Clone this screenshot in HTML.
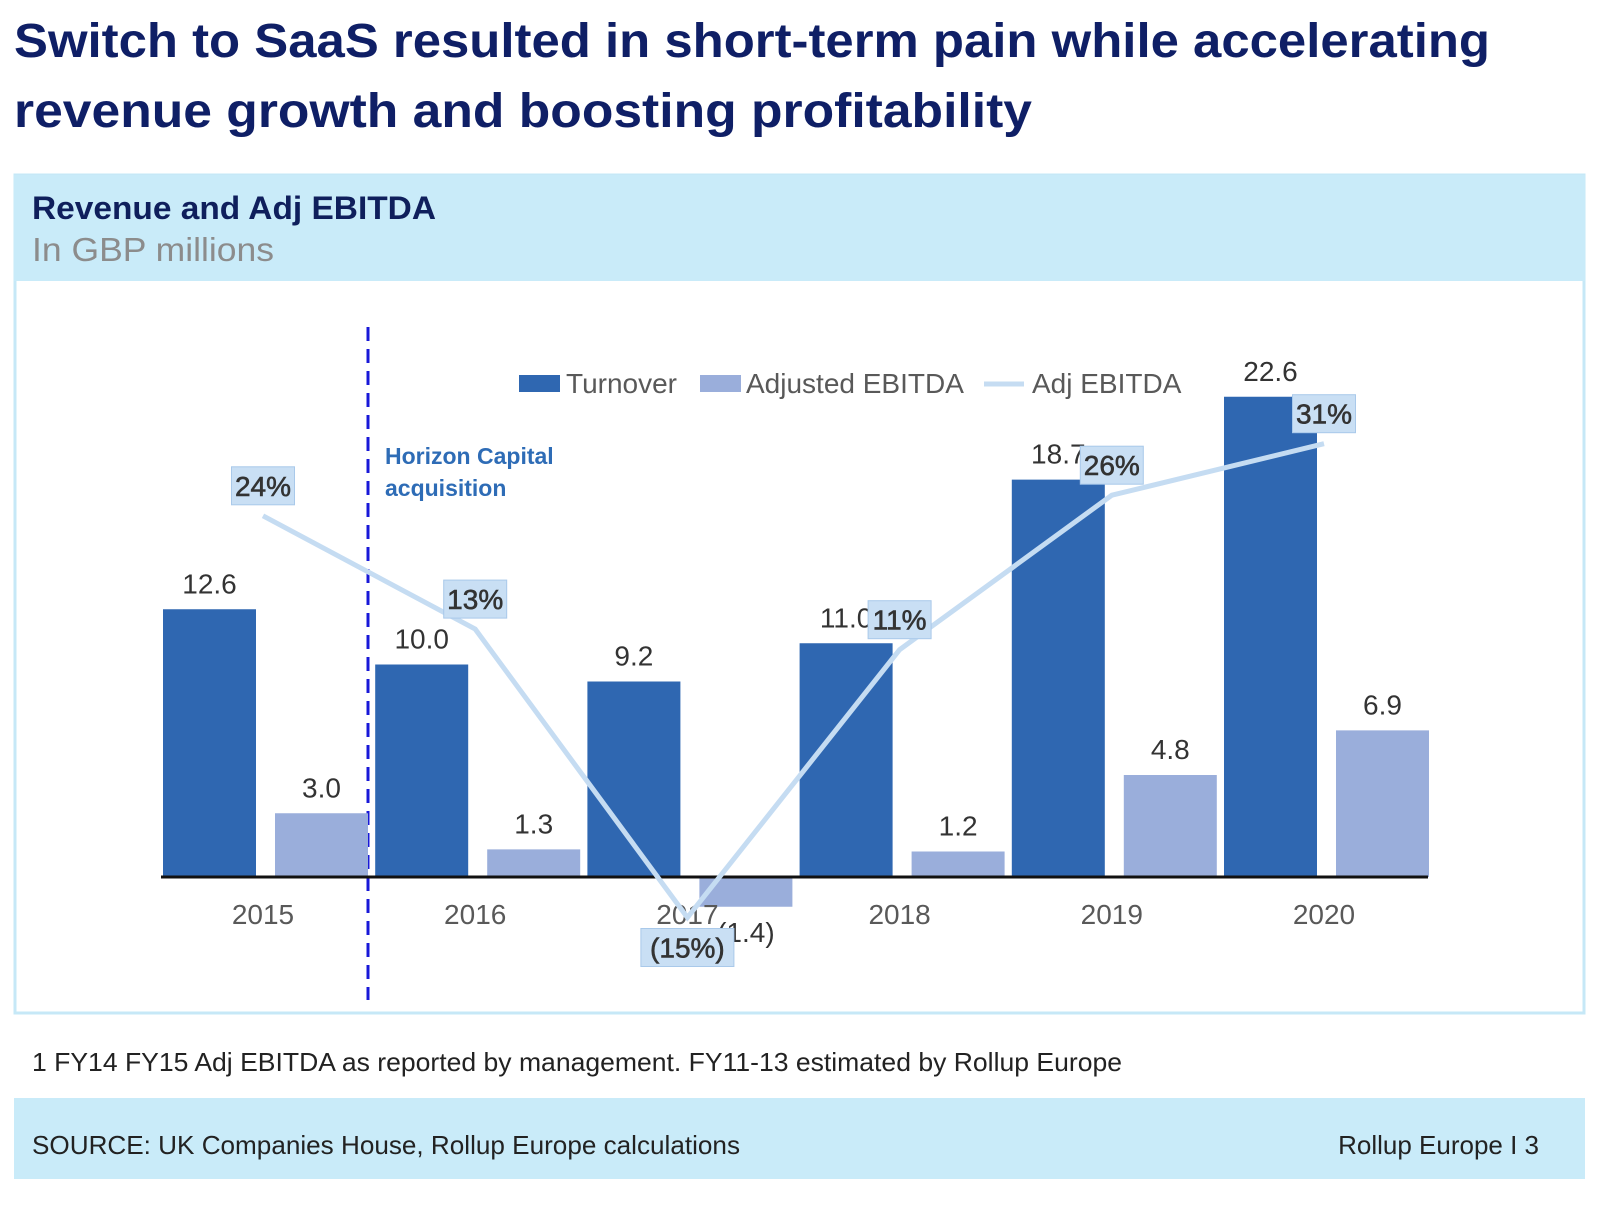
<!DOCTYPE html>
<html><head><meta charset="utf-8">
<style>
html,body{margin:0;padding:0;background:#fff;}
svg{display:block;font-family:"Liberation Sans",sans-serif;}
</style></head>
<body>
<svg id="chart" width="1600" height="1223" viewBox="0 0 1600 1223">
  <text x="14" y="57" font-size="48" font-weight="bold" fill="#0f1f66" textLength="1476" lengthAdjust="spacingAndGlyphs">Switch to SaaS resulted in short-term pain while accelerating</text>
  <text x="14" y="127" font-size="48" font-weight="bold" fill="#0f1f66" textLength="1018" lengthAdjust="spacingAndGlyphs">revenue growth and boosting profitability</text>

  <rect x="15" y="175" width="1569" height="838" fill="#fff" stroke="#c6e8f7" stroke-width="3"/>
  <rect x="14" y="175" width="1571" height="106" fill="#c9ebf9"/>
  <text x="32" y="219" font-size="32" font-weight="bold" fill="#0f1f5c" textLength="404" lengthAdjust="spacingAndGlyphs">Revenue and Adj EBITDA</text>
  <text x="32" y="261" font-size="33" fill="#8c8c8c" textLength="242" lengthAdjust="spacingAndGlyphs">In GBP millions</text>

  <line x1="368" y1="327" x2="368" y2="1000" stroke="#1818d8" stroke-width="3" stroke-dasharray="14,8"/>
  <text x="385" y="464" font-size="23" font-weight="bold" fill="#2e6cb6">Horizon Capital</text>
  <text x="385" y="496" font-size="23" font-weight="bold" fill="#2e6cb6">acquisition</text>

  <g>
    <rect x="519" y="375" width="41" height="17" fill="#2f67b1"/>
    <text x="566" y="393" font-size="28" fill="#595959">Turnover</text>
    <rect x="700" y="375" width="41" height="17" fill="#9aaedb"/>
    <text x="746" y="393" font-size="28" fill="#595959">Adjusted EBITDA</text>
    <line x1="984" y1="384" x2="1024" y2="384" stroke="#c5dcf2" stroke-width="5"/>
    <text x="1032" y="393" font-size="28" fill="#595959">Adj EBITDA</text>
  </g>

  <g id="plot"></g>

  <text x="32" y="1071" font-size="26" fill="#222" textLength="1090" lengthAdjust="spacingAndGlyphs">1 FY14 FY15 Adj EBITDA as reported by management. FY11-13 estimated by Rollup Europe</text>
  <rect x="14" y="1098" width="1571" height="81" fill="#c9ebf9"/>
  <text x="32" y="1154" font-size="26" fill="#222" textLength="708" lengthAdjust="spacingAndGlyphs">SOURCE: UK Companies House, Rollup Europe calculations</text>
  <text x="1539" y="1154" font-size="26" fill="#222" text-anchor="end">Rollup Europe I 3</text>
</svg>
<script>
const years = ["2015","2016","2017","2018","2019","2020"];
const turnover = [12.6, 10.0, 9.2, 11.0, 18.7, 22.6];
const ebitda = [3.0, 1.3, -1.4, 1.2, 4.8, 6.9];
const margin = [24, 13, -15, 11, 26, 31];
const turnoverLabels = ["12.6","10.0","9.2","11.0","18.7","22.6"];
const ebitdaLabels = ["3.0","1.3","(1.4)","1.2","4.8","6.9"];
const marginLabels = ["24%","13%","(15%)","11%","26%","31%"];

const NS = "http://www.w3.org/2000/svg";
const plot = document.getElementById('plot');
const baseY = 877, pxPerUnit = 21.25;
const y = v => baseY - v * pxPerUnit;
const x0 = 163, step = 212.2, bw = 93, off = 112;
const xGroup = i => x0 + i * step;
const mZero = 763, pxPerPct = 10.3;
const ym = p => mZero - p * pxPerPct;
const xm = i => xGroup(i) + 100;

function mk(tag, attrs, txt){
  const e = document.createElementNS(NS, tag);
  for (const k in attrs) e.setAttribute(k, attrs[k]);
  if (txt !== undefined) e.textContent = txt;
  plot.appendChild(e);
  return e;
}

years.forEach((yr, i) => {
  const gx = xGroup(i);
  let r = mk('rect', {x: gx, y: y(turnover[i]), width: bw, height: baseY - y(turnover[i]), fill: '#2f67b1'});
  
  
  const ev = ebitda[i];
  r = mk('rect', {x: gx + off, y: Math.min(y(ev), baseY), width: bw, height: Math.abs(ev) * pxPerUnit, fill: '#9aaedb'});
  
  
  let t = mk('text', {x: gx + bw/2, y: y(turnover[i]) - 16, 'font-size': 28, fill: '#333', 'text-anchor': 'middle'}, turnoverLabels[i]);
  
  
  const ly = ev >= 0 ? y(ev) - 16 : y(ev) + 35;
  t = mk('text', {x: gx + off + bw/2, y: ly, 'font-size': 28, fill: '#333', 'text-anchor': 'middle'}, ebitdaLabels[i]);
  
  
  t = mk('text', {x: gx + 100, y: 924, 'font-size': 28, fill: '#595959', 'text-anchor': 'middle'}, yr);
  
  
});

const ax = mk('line', {x1: 161, y1: baseY, x2: 1428, y2: baseY, stroke: '#111', 'stroke-width': 3});



const pts = margin.map((p, i) => xm(i) + ',' + ym(p)).join(' ');
const pl = mk('polyline', {points: pts, fill: 'none', stroke: '#c5dcf2', 'stroke-width': 5});



margin.forEach((p, i) => {
  const cy = p >= 0 ? ym(p) - 30 : ym(p) + 30;
  const lab = marginLabels[i];
  const w = lab.length * 15 + 18;
  const b = mk('rect', {x: xm(i) - w/2, y: cy - 19, width: w, height: 38, fill: '#c9dff4', stroke: '#a9c9ea', 'stroke-width': 1});
  
  
  const t = mk('text', {x: xm(i), y: cy + 10, 'font-size': 28, fill: '#333', 'text-anchor': 'middle', stroke: '#333', 'stroke-width': 0.6}, lab);
  
  
});
</script>
</body></html>
